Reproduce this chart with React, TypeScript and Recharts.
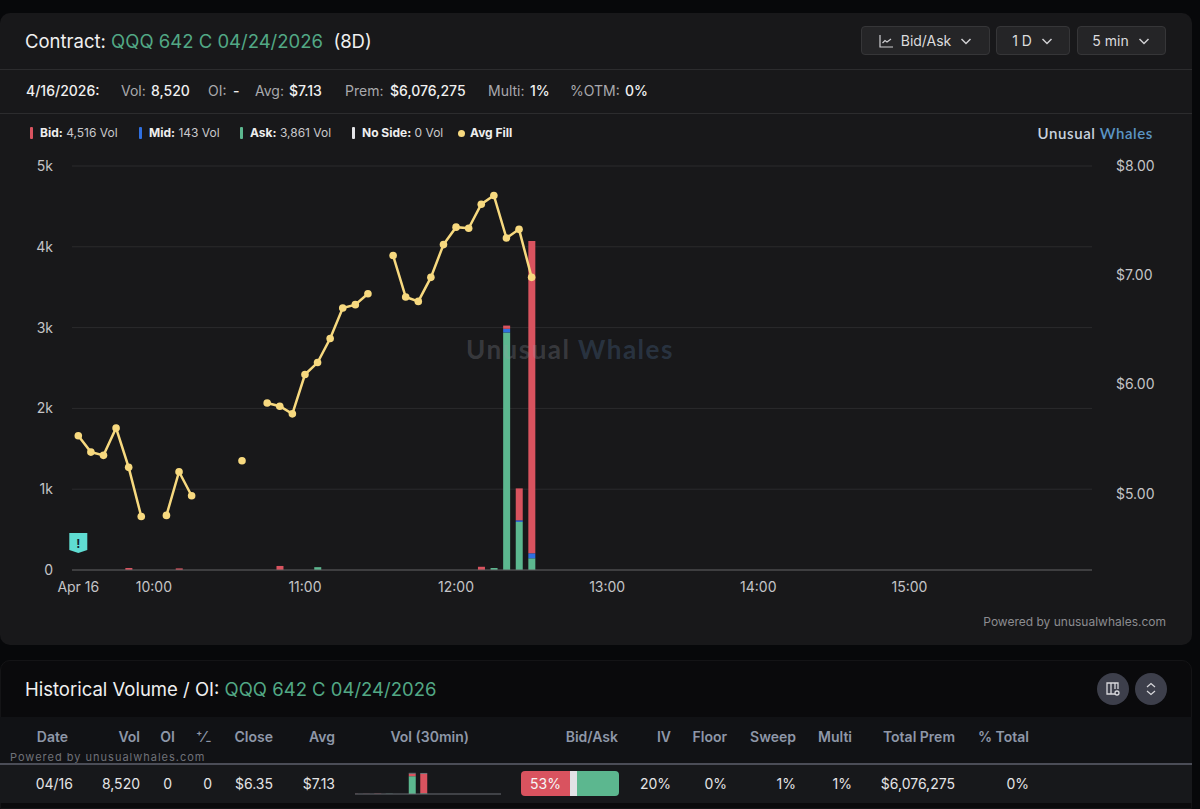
import React from 'react';
import { BarChart, Bar, ComposedChart, Line, XAxis, YAxis, CartesianGrid, ReferenceDot } from 'recharts';

const timeSlots = [
  'Apr 16', '9:35', '9:40', '9:45', '9:50', '9:55',
  '10:00', '10:05', '10:10', '10:15', '10:20', '10:25', '10:30', '10:35', '10:40', '10:45', '10:50', '10:55',
  '11:00', '11:05', '11:10', '11:15', '11:20', '11:25', '11:30', '11:35', '11:40', '11:45', '11:50', '11:55',
  '12:00', '12:05', '12:10', '12:15', '12:20', '12:25', '12:30', '12:35', '12:40', '12:45', '12:50', '12:55',
  '13:00', '13:05', '13:10', '13:15', '13:20', '13:25', '13:30', '13:35', '13:40', '13:45', '13:50', '13:55',
  '14:00', '14:05', '14:10', '14:15', '14:20', '14:25', '14:30', '14:35', '14:40', '14:45', '14:50', '14:55',
  '15:00', '15:05', '15:10', '15:15', '15:20', '15:25', '15:30', '15:35', '15:40', '15:45', '15:50', '15:55',
  '16:00', '16:05', '16:10',
];
const timeTicks = ['Apr 16', '10:00', '11:00', '12:00', '13:00', '14:00', '15:00'];
const volTicks = [0, 1000, 2000, 3000, 4000, 5000];
const priceTicks = [5, 6, 7, 8];

// 9:30 through 12:30, one entry per 5 min slot
const bidVol = [0, 0, 0, 0, 25, 0, 0, 0, 20, 0, 0, 0, 0, 0, 0, 0, 50, 0, 0, 0, 0, 0, 0, 0, 0, 0, 0, 0, 0, 0, 0, 0, 40, 0, 40, 395, 3865];
const midVol = [0, 0, 0, 0, 0, 0, 0, 0, 0, 0, 0, 0, 0, 0, 0, 0, 0, 0, 0, 0, 0, 0, 0, 0, 0, 0, 0, 0, 0, 0, 0, 0, 0, 0, 45, 20, 62];
const askVol = [0, 0, 0, 0, 0, 0, 0, 0, 0, 0, 0, 0, 0, 0, 0, 0, 0, 0, 0, 35, 0, 0, 0, 0, 0, 0, 0, 0, 0, 0, 0, 0, 0, 25, 2940, 595, 145];
const avgFill = [
  5.53, 5.38, 5.35, 5.6, 5.24, 4.79, null, 4.8, 5.2, 4.98, null, null, null, 5.3, null, 5.83, 5.8, 5.73,
  6.09, 6.2, 6.42, 6.7, 6.73, 6.83, null, 7.18, 6.8, 6.76, 6.98, 7.28, 7.44, 7.43, 7.65, 7.73, 7.34, 7.42, 6.98,
];

const miniSlots = ['9:30', '10:00', '10:30', '11:00', '11:30', '12:00', '12:30', '13:00', '13:30', '14:00', '14:30', '15:00', '15:30'];
const miniAsk = [0, 0, 0, 35, 0, 3560, 145];
const miniBid = [25, 20, 50, 0, 0, 475, 3865];
const miniMid = [0, 0, 0, 0, 0, 200, 200];

const statsRow: [string, number, boolean][] = [
  ['4/16/2026:', 26, true], ['Vol:', 121, false], ['8,520', 151, true], ['OI:', 208, false], ['-', 233, true],
  ['Avg:', 255, false], ['$7.13', 289, true], ['Prem:', 345, false], ['$6,076,275', 390, true],
  ['Multi:', 488, false], ['1%', 530, true], ['%OTM:', 570, false], ['0%', 625, true],
];
const legendItems: [string, string, string, number][] = [
  ['Bid:', '4,516 Vol', '#d9535f', 30],
  ['Mid:', '143 Vol', '#2f6fe0', 139],
  ['Ask:', '3,861 Vol', '#5cb78f', 240],
  ['No Side:', '0 Vol', '#e4e4e7', 352],
];
const tableHeaders: [string, number][] = [
  ['Date', 68], ['Vol', 140], ['OI', 175], ['Close', 273], ['Avg', 335], ['Vol (30min)', 469], ['Bid/Ask', 618],
  ['IV', 671], ['Floor', 727], ['Sweep', 796], ['Multi', 852], ['Total Prem', 955], ['% Total', 1029],
];
const tableCells: [string, number][] = [
  ['04/16', 73], ['8,520', 140], ['0', 172], ['0', 212], ['$6.35', 273], ['$7.13', 335],
  ['20%', 671], ['0%', 727], ['1%', 796], ['1%', 852], ['$6,076,275', 955], ['0%', 1029],
];

const chartData = timeSlots.map((slot, i) => ({
  slot,
  bid: bidVol[i] ?? 0,
  mid: midVol[i] ?? 0,
  ask: askVol[i] ?? 0,
  avg: avgFill[i] ?? null,
}));
const miniData = miniSlots.map((slot, i) => ({
  slot,
  ask: miniAsk[i] ?? 0,
  bid: miniBid[i] ?? 0,
  mid: miniMid[i] ?? 0,
}));

const font = 'Inter, "Noto Sans", sans-serif';
const green = '#5cb78f';
const red = '#d9535f';
const gold = '#f7d97f';

const Txt = ({ x, y, right, size = 14, color = '#e6e6e8', weight = 400, children, style }: any) => (
  <div style={{
    position: 'absolute',
    top: y,
    left: right === undefined ? x : undefined,
    right: right === undefined ? undefined : 1200 - right,
    fontSize: size,
    lineHeight: 1,
    color,
    fontWeight: weight,
    whiteSpace: 'pre',
    transform: 'translateY(-50%)',
    ...style,
  }}>{children}</div>
);

const Box = ({ x, y, w, h, bg, style }: any) => (
  <div style={{ position: 'absolute', left: x, top: y, width: w, height: h, background: bg, ...style }} />
);

const Chevron = () => (
  <svg width="14" height="14" viewBox="0 0 14 14" fill="none" stroke="#cfcfd2" strokeWidth="1.5">
    <path d="M2.5 5 L7 9.5 L11.5 5" />
  </svg>
);

const Select = ({ x, w, label, icon }: any) => (
  <div style={{
    position: 'absolute', left: x, top: 26, width: w, height: 29, boxSizing: 'border-box',
    background: '#252527', border: '1px solid #363638', borderRadius: 4,
    display: 'flex', alignItems: 'center', justifyContent: 'center', gap: 8,
    fontSize: 14, color: '#dcdcde',
  }}>
    {icon && (
      <svg width="16" height="16" viewBox="0 0 16 16" fill="none" stroke="#cfcfd2" strokeWidth="1.2" style={{ marginRight: -1 }}>
        <path d="M2 2 V14 H15 M4.5 10 L7 7.5 L9 9 L13 6" />
      </svg>
    )}
    <span>{label}</span>
    <Chevron />
  </div>
);

const WarningFlag = ({ cx, cy }: any) => (
  <g>
    <path d={`M${cx - 9} ${cy - 10} H${cx + 9} V${cy + 7} L${cx} ${cy + 10} L${cx - 9} ${cy + 7} Z`} fill="#5fdcd2" />
    <text x={cx} y={cy + 5} textAnchor="middle" fontSize={12} fontWeight={700} fill="#123">!</text>
  </g>
);

export default function App() {
  return (
    <div style={{ position: 'absolute', left: 0, top: 0, width: 1200, height: 809, overflow: 'hidden', background: '#07080a', fontFamily: font }}>
      <Box x={0} y={13} w={1192} h={632} bg="#18181a" style={{ borderRadius: 10 }} />
      <Box x={0} y={69} w={1192} h={1} bg="#2c2c2e" />
      <Box x={0} y={113} w={1192} h={1} bg="#2c2c2e" />

      <Txt x={25} y={41} size={18.5} color="#f0f0f0">
        Contract: <span style={{ color: '#52a885' }}>QQQ 642 C 04/24/2026</span>{'  '}(8D)
      </Txt>
      <Select x={861} w={129} label="Bid/Ask" icon />
      <Select x={996} w={74} label="1 D" />
      <Select x={1077} w={89} label="5 min" />

      {statsRow.map(([label, x, strong]) => (
        <Txt key={label + x} x={x} y={91} size={14} color={strong ? '#f0f0f0' : '#a9a9ad'} weight={strong ? 500 : 400}>{label}</Txt>
      ))}

      {legendItems.map(([name, value, color, x]) => (
        <React.Fragment key={name}>
          <Box x={x} y={127} w={3} h={12} bg={color} style={{ borderRadius: 1 }} />
          <Txt x={x + 10} y={133} size={12} color="#c9c9cc">
            <span style={{ color: '#eeeeee', fontWeight: 700 }}>{name}</span> {value}
          </Txt>
        </React.Fragment>
      ))}
      <Box x={458} y={130} w={7} h={7} bg={gold} style={{ borderRadius: '50%' }} />
      <Txt x={470} y={133} size={12} color="#eeeeee" weight={700}>Avg Fill</Txt>
      <Txt right={1153} y={133} size={15} weight={600} color="#c8d2de" style={{ fontFamily: 'Lato, sans-serif', letterSpacing: 0.6 }}>
        Unusual <span style={{ color: '#5b95c4' }}>Whales</span>
      </Txt>

      <div style={{ position: 'absolute', left: 0, top: 0 }}>
        <ComposedChart
          width={1200}
          height={640}
          data={chartData}
          margin={{ top: 166, right: 0, bottom: 40, left: 0 }}
          barCategoryGap={0}
        >
          <CartesianGrid yAxisId="vol" vertical={false} stroke="#2b2b2d" />
          <XAxis
            dataKey="slot"
            ticks={timeTicks}
            interval={0}
            height={30}
            axisLine={{ stroke: '#5c5c5e' }}
            tickLine={false}
            tickMargin={6}
            tick={{ fill: '#c4c4c7', fontSize: 14, fontFamily: font }}
          />
          <YAxis
            yAxisId="vol"
            width={72}
            domain={[0, 5000]}
            ticks={volTicks}
            axisLine={false}
            tickLine={false}
            tickMargin={13}
            tickFormatter={(v: number) => (v === 0 ? '0' : `${v / 1000}k`)}
            tick={{ fill: '#c4c4c7', fontSize: 14, fontFamily: font }}
          />
          <YAxis
            yAxisId="price"
            orientation="right"
            width={108}
            domain={[4.3, 8]}
            ticks={priceTicks}
            axisLine={false}
            tickLine={false}
            tickMargin={18}
            tickFormatter={(v: number) => `$${v.toFixed(2)}`}
            tick={{ fill: '#c4c4c7', fontSize: 14, fontFamily: font }}
          />
          <Bar yAxisId="vol" dataKey="ask" stackId="vol" fill={green} barSize={7} isAnimationActive={false} />
          <Bar yAxisId="vol" dataKey="mid" stackId="vol" fill="#2f6fe0" barSize={7} isAnimationActive={false} />
          <Bar yAxisId="vol" dataKey="bid" stackId="vol" fill={red} barSize={7} isAnimationActive={false} />
          <Line
            yAxisId="price"
            dataKey="avg"
            stroke={gold}
            strokeWidth={2.5}
            dot={{ r: 3.8, fill: gold, stroke: gold, strokeWidth: 0 }}
            activeDot={false}
            connectNulls={false}
            isAnimationActive={false}
          />
          <ReferenceDot yAxisId="vol" x="Apr 16" y={334} ifOverflow="visible" shape={WarningFlag} />
        </ComposedChart>
      </div>

      <Txt x={466} y={349} size={26} weight={700} color="rgba(150,155,165,0.27)" style={{ fontFamily: 'Lato, sans-serif', letterSpacing: 1.5 }}>
        Unusual <span style={{ color: 'rgba(90,130,175,0.27)' }}>Whales</span>
      </Txt>
      <Txt right={1166} y={622} size={12} color="#8c8c90">Powered by unusualwhales.com</Txt>

      <Box x={0} y={660} w={1192} h={149} bg="#0a0a0c" style={{ borderRadius: '10px 10px 0 0', border: '1px solid #141416', boxSizing: 'border-box' }} />
      <Txt x={25} y={689} size={18.5} color="#f0f0f0">
        Historical Volume / OI: <span style={{ color: '#52a885' }}>QQQ 642 C 04/24/2026</span>
      </Txt>
      <Box x={1097} y={673} w={32} h={32} bg="#3d3f4b" style={{ borderRadius: '50%' }} />
      <Box x={1135} y={673} w={32} h={32} bg="#3d3f4b" style={{ borderRadius: '50%' }} />
      <svg width="16" height="16" viewBox="0 0 16 16" fill="none" stroke="#d8d8dc" strokeWidth="1.3" style={{ position: 'absolute', left: 1105, top: 681 }}>
        <path d="M10 13 H2 V2 H13 V8 M6 2 V13 M10 2 V8" />
        <circle cx="12" cy="12" r="2" />
      </svg>
      <svg width="14" height="16" viewBox="0 0 14 16" fill="none" stroke="#d8d8dc" strokeWidth="1.2" style={{ position: 'absolute', left: 1144, top: 681 }}>
        <path d="M3 6 L7 2.5 L11 6 M3 10 L7 13.5 L11 10" />
      </svg>

      <Box x={0} y={717} w={1192} h={46} bg="#111215" />
      <Box x={0} y={763} w={1192} h={2} bg="#4b4d57" />
      <Box x={0} y={765} w={1192} h={38} bg="#17181b" />

      {tableHeaders.map(([label, right]) => (
        <Txt key={label} right={right} y={737} size={14} weight={600} color="#8e97a8">{label}</Txt>
      ))}
      <Txt x={196} y={737} size={14} weight={600} color="#8e97a8">{'\u207A\u2044\u208B'}</Txt>
      {tableCells.map(([label, right], i) => (
        <Txt key={label + i} right={right} y={784} size={14} color="#e4e4e6">{label}</Txt>
      ))}
      <Txt x={10} y={757} size={11} color="#6f7178" style={{ letterSpacing: 1 }}>Powered by unusualwhales.com</Txt>

      <div style={{ position: 'absolute', left: 355, top: 772 }}>
        <BarChart width={146} height={23} data={miniData} margin={{ top: 0, right: 0, bottom: 0, left: 0 }}>
          <XAxis dataKey="slot" scale="point" padding={{ left: 0, right: 8 }} height={1} tick={false} tickLine={false} axisLine={{ stroke: '#6b6d75' }} />
          <YAxis hide domain={[0, 4400]} />
          <Bar dataKey="ask" stackId="m" fill={green} barSize={7} isAnimationActive={false} />
          <Bar dataKey="bid" stackId="m" fill={red} barSize={7} isAnimationActive={false} />
          <Bar dataKey="mid" stackId="m" fill="#77797f" barSize={7} isAnimationActive={false} />
        </BarChart>
      </div>

      <div style={{ position: 'absolute', left: 521, top: 771, width: 98, height: 25, borderRadius: 4, overflow: 'hidden', display: 'flex' }}>
        <div style={{ width: 49, background: red, color: '#f6f6f6', fontSize: 14, lineHeight: '25px', textAlign: 'center' }}>53%</div>
        <div style={{ width: 7, background: '#e2e2e6' }} />
        <div style={{ flex: 1, background: green }} />
      </div>
    </div>
  );
}
